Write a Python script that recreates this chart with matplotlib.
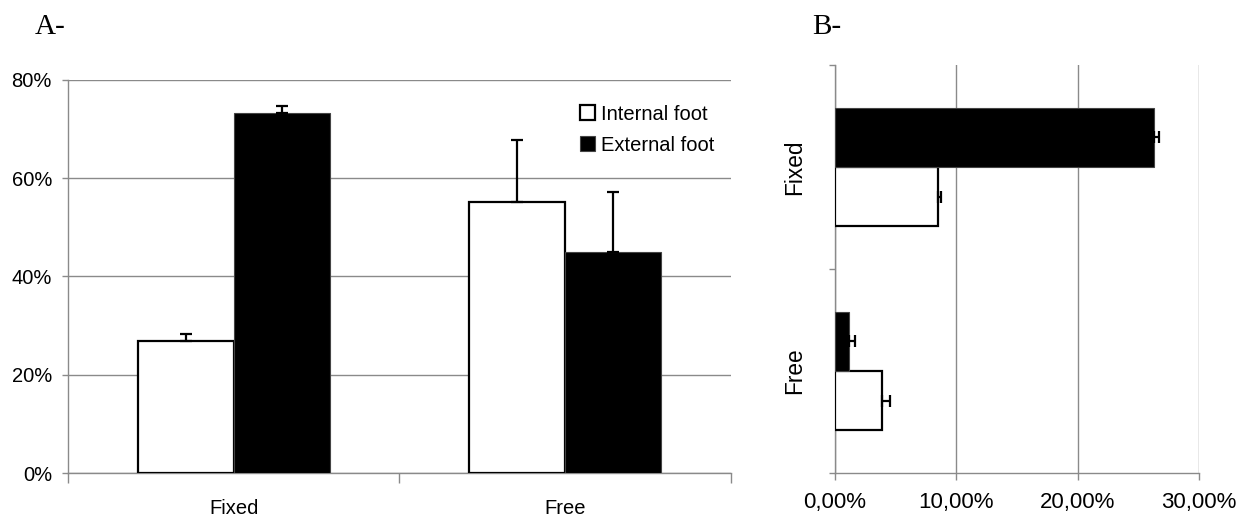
import numpy as np
import matplotlib.pyplot as plt

plt.rcParams['font.family'] = ['Liberation Sans', 'DejaVu Sans']

# ---- data ----
groups = ["Fixed", "Free"]
internal_a = [26.8, 55.1]
external_a = [73.3, 44.9]
internal_a_err = [1.5, 12.6]
external_a_err = [1.4, 12.4]

internal_b = [8.45, 3.9]
external_b = [26.3, 1.15]
internal_b_err = [0.3, 0.65]
external_b_err = [0.4, 0.5]

yticks_a = [0, 20, 40, 60, 80]
xticks_b = [0, 10, 20, 30]
xtick_labels_b = ["0,00%", "10,00%", "20,00%", "30,00%"]

GRID = "#8a8a8a"
w = 0.29

fig = plt.figure(figsize=(12.4, 5.17), dpi=100)

# ================= A =================
ax = fig.add_axes([0.0548, 0.0851, 0.5347, 0.7602])
x = np.arange(len(groups))
ax.bar(x - w / 2, internal_a, w, color="white", edgecolor="black", linewidth=1.6,
       zorder=3, label="Internal foot")
ax.bar(x + w / 2, external_a, w, color="black", edgecolor="#444444", linewidth=0.8,
       zorder=3, label="External foot")
ax.errorbar(x - w / 2, internal_a, yerr=[np.zeros(2), internal_a_err], fmt="none",
            ecolor="black", elinewidth=1.6, capsize=4.5, capthick=1.6, zorder=4)
ax.errorbar(x + w / 2, external_a, yerr=[np.zeros(2), external_a_err], fmt="none",
            ecolor="black", elinewidth=1.6, capsize=4.5, capthick=1.6, zorder=4)

ax.set_xlim(-0.5, 1.5)
ax.set_ylim(0, 80)
ax.set_yticks(yticks_a)
ax.set_yticklabels([f"{v}%" for v in yticks_a], fontsize=14.5)
ax.yaxis.grid(True, color=GRID, linewidth=1.0, zorder=0)
ax.set_axisbelow(True)
ax.set_xticks([-0.5, 0.5, 1.5])
ax.set_xticklabels([])
ax.set_xticks(x, minor=True)
ax.set_xticklabels(groups, minor=True, fontsize=14.5)
ax.tick_params(axis="x", which="major", length=7, color=GRID, width=1)
ax.tick_params(axis="x", which="minor", length=0, pad=19)
ax.tick_params(axis="y", length=4.5, color=GRID, width=1, pad=7)
for s in ["top", "right"]:
    ax.spines[s].set_visible(False)
for s in ["left", "bottom"]:
    ax.spines[s].set_color(GRID)
    ax.spines[s].set_linewidth(1.0)

leg = ax.legend(loc="upper left", bbox_to_anchor=(0.76, 0.958), frameon=False,
                fontsize=14.5, handlelength=0.75, handleheight=0.75,
                handletextpad=0.3, labelspacing=0.6, borderaxespad=0)

fig.text(0.028, 0.935, "A-", family="Liberation Serif", fontsize=21)

# ================= B =================
bx = fig.add_axes([0.6734, 0.0851, 0.2935, 0.7892])
y = np.arange(len(groups))[::-1]  # Fixed on top, Free below
bx.barh(y - w / 2, internal_b, w, color="white", edgecolor="black", linewidth=1.6, zorder=3)
bx.barh(y + w / 2, external_b, w, color="black", edgecolor="#444444", linewidth=0.8, zorder=3)
bx.errorbar(internal_b, y - w / 2, xerr=[np.zeros(2), internal_b_err], fmt="none",
            ecolor="black", elinewidth=1.6, capsize=4.5, capthick=1.6, zorder=4)
bx.errorbar(external_b, y + w / 2, xerr=[np.zeros(2), external_b_err], fmt="none",
            ecolor="black", elinewidth=1.6, capsize=4.5, capthick=1.6, zorder=4)

bx.set_xlim(0, 30)
bx.set_ylim(-0.5, 1.5)
bx.set_xticks(xticks_b)
bx.set_xticklabels(xtick_labels_b, fontsize=16)
bx.xaxis.grid(True, color=GRID, linewidth=1.0, zorder=0)
bx.set_axisbelow(True)
bx.set_yticks([-0.5, 0.5, 1.5])
bx.set_yticklabels([])
bx.set_yticks(y, minor=True)
bx.set_yticklabels(groups, minor=True, fontsize=16.3, rotation=90, va="center")
bx.tick_params(axis="y", which="major", length=4.5, color=GRID, width=1)
bx.tick_params(axis="y", which="minor", length=0, pad=21)
bx.tick_params(axis="x", length=5, color=GRID, width=1, pad=9)
for s in ["top", "right"]:
    bx.spines[s].set_visible(False)
for s in ["left", "bottom"]:
    bx.spines[s].set_color(GRID)
    bx.spines[s].set_linewidth(1.0)

fig.text(0.655, 0.935, "B-", family="Liberation Serif", fontsize=21)

fig.savefig("out.png", dpi=100)
